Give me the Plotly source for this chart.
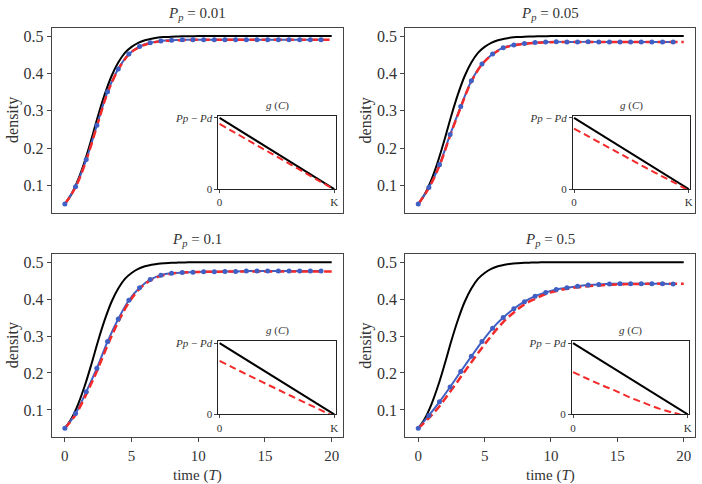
import plotly.graph_objects as go

# ---------------- data ----------------
T_BLACK = [0, 0.5, 1, 1.5, 2, 2.5, 3, 3.5, 4, 4.5, 5, 5.5, 6, 6.5, 7, 7.5, 8, 8.5, 9, 9.5,
           10, 11, 12, 13, 14, 15, 16, 17, 18, 19, 20]
BLACK = [0.05, 0.077, 0.116, 0.166, 0.225, 0.288, 0.345, 0.393, 0.429, 0.455, 0.471, 0.482,
         0.489, 0.493, 0.496, 0.4975, 0.4985, 0.499, 0.4995, 0.4997,
         0.5, 0.5, 0.5, 0.5, 0.5, 0.5, 0.5, 0.5, 0.5, 0.5, 0.5]

T_BLUE = [0, 0.8, 1.6, 2.4, 3.2, 4.0, 4.8, 5.6, 6.4, 7.2, 8.0, 8.8, 9.6, 10.4, 11.2, 12.0,
          12.8, 13.6, 14.4, 15.2, 16.0, 16.8, 17.6, 18.4, 19.2]
T_RED = T_BLUE + [20]

BLUE_001 = [0.05, 0.0965, 0.169, 0.261, 0.351, 0.412, 0.452, 0.472, 0.482, 0.487, 0.489, 0.49,
            0.49, 0.49, 0.49, 0.49, 0.49, 0.49, 0.49, 0.49, 0.49, 0.49, 0.49, 0.49, 0.49]
RED_001 = [0.05, 0.095, 0.167, 0.258, 0.348, 0.41, 0.451, 0.471, 0.481, 0.486, 0.488, 0.489,
           0.49, 0.49, 0.49, 0.49, 0.49, 0.49, 0.49, 0.49, 0.49, 0.49, 0.49, 0.49, 0.49, 0.49]

BLUE_005 = [0.05, 0.094, 0.155, 0.236, 0.311, 0.38, 0.425, 0.452, 0.469, 0.476, 0.48, 0.483,
            0.484, 0.485, 0.484, 0.484, 0.485, 0.484, 0.484, 0.484, 0.484, 0.484, 0.484, 0.484, 0.484]
RED_005 = [0.05, 0.093, 0.153, 0.233, 0.309, 0.378, 0.424, 0.451, 0.468, 0.475, 0.479, 0.482,
           0.483, 0.484, 0.484, 0.484, 0.484, 0.484, 0.484, 0.484, 0.484, 0.484, 0.484, 0.484, 0.484, 0.484]

BLUE_01 = [0.05, 0.09, 0.149, 0.213, 0.285, 0.346, 0.397, 0.431, 0.453, 0.465, 0.47, 0.472,
           0.473, 0.474, 0.474, 0.475, 0.475, 0.476, 0.476, 0.476, 0.476, 0.476, 0.476, 0.476, 0.476]
RED_01 = [0.05, 0.087, 0.142, 0.205, 0.275, 0.338, 0.391, 0.428, 0.451, 0.463, 0.469, 0.472,
          0.473, 0.474, 0.474, 0.475, 0.475, 0.475, 0.475, 0.475, 0.475, 0.475, 0.475, 0.475, 0.475, 0.475]

BLUE_05 = [0.05, 0.085, 0.122, 0.162, 0.204, 0.245, 0.285, 0.321, 0.35, 0.374, 0.393, 0.408,
           0.418, 0.426, 0.431, 0.435, 0.438, 0.44, 0.441, 0.442, 0.442, 0.442, 0.442, 0.442, 0.441]
RED_05 = [0.05, 0.078, 0.11, 0.149, 0.189, 0.229, 0.268, 0.305, 0.338, 0.364, 0.386, 0.401,
          0.414, 0.422, 0.428, 0.432, 0.435, 0.437, 0.439, 0.44, 0.441, 0.441, 0.442, 0.442, 0.442, 0.442]

# inset g(C): C in units of K, g in units of (Pp - Pd)
C_INSET = [0, 0.125, 0.25, 0.375, 0.5, 0.625, 0.75, 0.875, 1]
G_BLACK = [1, 0.875, 0.75, 0.625, 0.5, 0.375, 0.25, 0.125, 0]
G_RED_001 = [0.915, 0.8, 0.685, 0.57, 0.455, 0.34, 0.225, 0.11, -0.005]
G_RED_005 = [0.85, 0.74, 0.63, 0.52, 0.41, 0.30, 0.195, 0.09, -0.02]
G_RED_01 = [0.75, 0.65, 0.55, 0.452, 0.355, 0.258, 0.16, 0.065, -0.03]
G_RED_05 = [0.594, 0.50, 0.41, 0.327, 0.235, 0.157, 0.08, 0.023, -0.035]

PP_LABELS = ["0.01", "0.05", "0.1", "0.5"]
X_TICKS = [0, 5, 10, 15, 20]
Y_TICKS = [0.1, 0.2, 0.3, 0.4, 0.5]

# ---------------- layout ----------------
W, H = 702, 484
FONT = "Liberation Serif"
BLUE_C = "#3f5fc4"
RED_C = "#f42a2a"
FRAME_C = "#444444"
TXT_C = "#333333"


def xd(a, b):
    return [a / W, b / W]


def yd(top, bottom):
    return [1 - bottom / H, 1 - top / H]


def fnt(size):
    return dict(family=FONT, size=size, color=TXT_C)


panels = [
    dict(pp=PP_LABELS[0], main=(50, 343.5, 24, 213), inset=(218, 336, 114, 189),
         blue=BLUE_001, red=RED_001, ired=G_RED_001, bottom=False),
    dict(pp=PP_LABELS[1], main=(406, 698, 24, 213), inset=(575, 693, 114, 189),
         blue=BLUE_005, red=RED_005, ired=G_RED_005, bottom=False),
    dict(pp=PP_LABELS[2], main=(50, 343.5, 255, 442), inset=(218, 336, 344, 419),
         blue=BLUE_01, red=RED_01, ired=G_RED_01, bottom=True),
    dict(pp=PP_LABELS[3], main=(406, 698, 255, 442), inset=(574, 692, 344, 419),
         blue=BLUE_05, red=RED_05, ired=G_RED_05, bottom=True),
]

fig = go.Figure()
layout = dict(width=W, height=H, autosize=False, margin=dict(l=0, r=0, t=0, b=0),
              paper_bgcolor="white", plot_bgcolor="white", showlegend=False,
              font=fnt(15))
annotations = []

for i, p in enumerate(panels):
    mi, ii = 2 * i + 1, 2 * i + 2
    mx, my = f"x{mi}", f"y{mi}"
    ix, iy = f"x{ii}", f"y{ii}"
    x0, x1, y0, y1 = p["main"]
    a0, a1, b0, b1 = p["inset"]

    common = dict(showgrid=False, zeroline=False, showline=True, mirror=True,
                  linecolor=FRAME_C, linewidth=1)
    layout[f"xaxis{mi}"] = dict(common, domain=xd(x0, x1), anchor=my, range=[-0.99, 20.85],
                                tickvals=X_TICKS, ticks="outside" if p["bottom"] else "",
                                ticklen=4, tickcolor=FRAME_C, ticklabelstandoff=1,
                                showticklabels=p["bottom"], tickfont=fnt(15))
    layout[f"yaxis{mi}"] = dict(common, domain=yd(y0, y1), anchor=mx, range=[0.027, 0.523],
                                tickvals=Y_TICKS, ticktext=[f"{v:.1f}" for v in Y_TICKS],
                                ticks="outside", ticklen=4, tickcolor=FRAME_C,
                                tickfont=fnt(16))
    layout[f"xaxis{ii}"] = dict(common, domain=xd(a0, a1), anchor=iy, range=[-0.01, 1.012],
                                tickvals=[0, 1], ticktext=["0", "K"], ticks="outside",
                                ticklen=3, tickcolor=FRAME_C, linecolor="#222222",
                                tickfont=fnt(11))
    layout[f"yaxis{ii}"] = dict(common, domain=yd(b0, b1), anchor=ix, range=[0, 1.032],
                                tickvals=[0, 1], ticktext=["0", "<i>Pp</i> − <i>Pd</i>"],
                                ticks="outside", ticklen=3, tickcolor=FRAME_C,
                                linecolor="#222222", tickfont=fnt(11))

    # main curves
    fig.add_trace(go.Scatter(x=T_BLACK, y=BLACK, mode="lines", xaxis=mx, yaxis=my,
                             line=dict(color="black", width=2, shape="spline")))
    fig.add_trace(go.Scatter(x=T_BLUE, y=p["blue"], mode="lines", xaxis=mx, yaxis=my,
                             line=dict(color=BLUE_C, width=2, shape="spline")))
    fig.add_trace(go.Scatter(x=T_RED, y=p["red"], mode="lines", xaxis=mx, yaxis=my,
                             line=dict(color=RED_C, width=2.5, dash="8px,4px", shape="spline")))
    fig.add_trace(go.Scatter(x=T_BLUE, y=p["blue"], mode="markers", xaxis=mx, yaxis=my,
                             marker=dict(color=BLUE_C, size=5)))
    # inset
    fig.add_trace(go.Scatter(x=C_INSET, y=G_BLACK, mode="lines", xaxis=ix, yaxis=iy,
                             line=dict(color="black", width=2)))
    fig.add_trace(go.Scatter(x=C_INSET, y=p["ired"], mode="lines", xaxis=ix, yaxis=iy,
                             line=dict(color=RED_C, width=2, dash="7px,4px", shape="spline")))

    # titles
    annotations.append(dict(text=f"<i>P</i><sub><i>p</i></sub> = {p['pp']}", xref="paper", yref="paper",
                            x=(x0 + x1) / 2 / W, y=1 - (y0 - 3) / H, xanchor="center", yanchor="bottom",
                            showarrow=False, font=fnt(15)))
    annotations.append(dict(text="<i>g</i> (<i>C</i>)", xref="paper", yref="paper",
                            x=(a0 + a1) / 2 / W, y=1 - (b0 - 2) / H, xanchor="center", yanchor="bottom",
                            showarrow=False, font=fnt(11)))
    annotations.append(dict(text="density", xref="paper", yref="paper", textangle=-90,
                            x=(x0 - 39) / W, y=1 - (y0 + y1) / 2 / H, xanchor="center", yanchor="middle",
                            showarrow=False, font=fnt(16)))
    if p["bottom"]:
        annotations.append(dict(text="time (<i>T</i>)", xref="paper", yref="paper",
                                x=(x0 + x1) / 2 / W, y=-8 / H, xanchor="center", yanchor="bottom",
                                showarrow=False, font=fnt(15)))

layout["annotations"] = annotations
fig.update_layout(**layout)
fig.write_html("out.html", config={"displayModeBar": False},
               post_script="document.body.style.margin='0';")
